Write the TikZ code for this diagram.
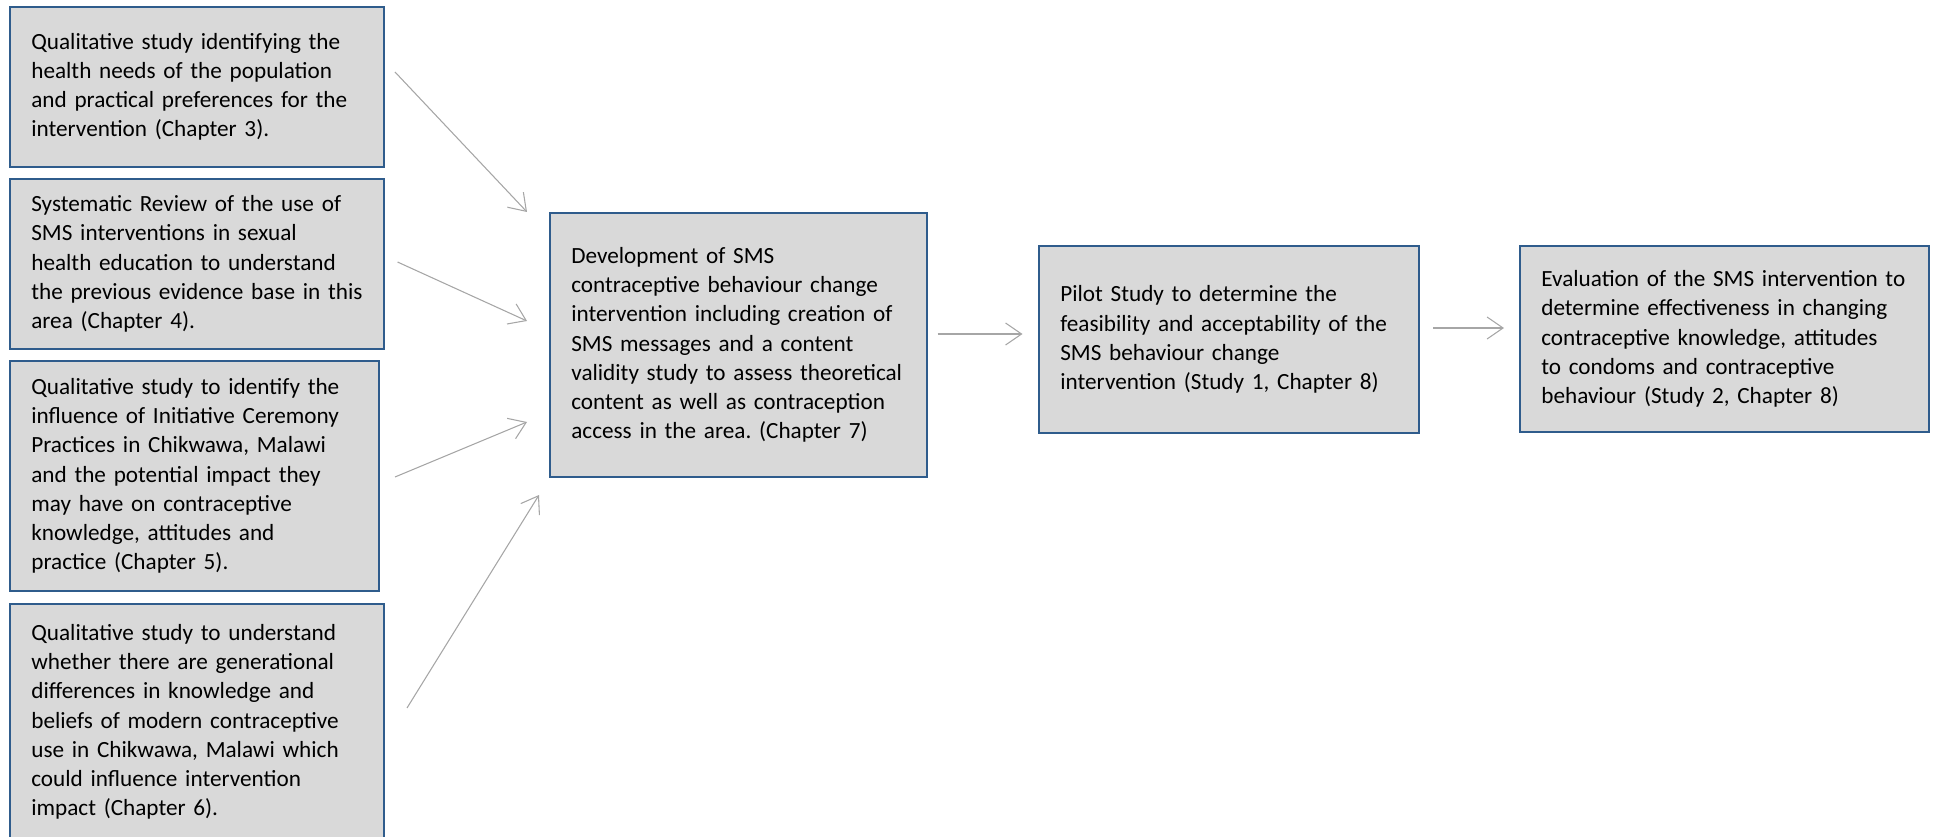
\documentclass[tikz,border=0pt]{standalone}
\usepackage{fontspec}
\setmainfont{Carlito}
\usetikzlibrary{arrows.meta}
\frenchspacing
\definecolor{stagefill}{HTML}{D9D9D9}
\definecolor{stageline}{HTML}{2F5C8C}
\definecolor{flowgray}{HTML}{A6A6A6}
\tikzset{
  stage/.style={draw=stageline, line width=1.8pt, fill=stagefill, align=left,
    inner xsep=16pt, inner ysep=0pt, font=\fontsize{17.4}{21.9}\selectfont},
  flow/.style={draw=flowgray, line width=0.8pt, -{Straight Barb[length=12pt,width=16.5pt]}}
}
\begin{document}
\begin{tikzpicture}[x=0.75pt, y=-0.75pt]
    \useasboundingbox (0,0) rectangle (1935,837);
    \begin{scope}
    \clip (0,0) rectangle (1935,837);
    % the four earlier studies
    \node (q1) [stage, text width=248.5pt, minimum height=120pt] at (197,87)
      {Qualitative study identifying the\\ health needs of the population\\ and practical preferences for the\\ intervention (Chapter 3).};
    \node (q2) [stage, text width=248.5pt, minimum height=127.5pt] at (197,264)
      {Systematic Review of the use of\\ SMS interventions in sexual\\ health education to understand\\ the previous evidence base in this\\ area (Chapter 4).};
    \node (q3) [stage, text width=244.75pt, minimum height=172.5pt] at (194.5,476)
      {Qualitative study to identify the\\ influence of Initiative Ceremony\\ Practices in Chikwawa, Malawi\\ and the potential impact they\\ may have on contraceptive\\ knowledge, attitudes and\\ practice (Chapter 5).};
    \node (q4) [stage, text width=248.5pt, minimum height=177pt] at (197,722)
      {Qualitative study to understand\\ whether there are generational\\ differences in knowledge and\\ beliefs of modern contraceptive\\ use in Chikwawa, Malawi which\\ could influence intervention\\ impact (Chapter 6).};
    \end{scope}

    % development, pilot and evaluation
    \node (dev) [stage, text width=250.75pt, minimum height=198pt] at (738.5,345)
      {Development of SMS\\ contraceptive behaviour change\\ intervention including creation of\\ SMS messages and a content\\ validity study to assess theoretical\\ content as well as contraception\\ access in the area. (Chapter 7)};
    \node (pilot) [stage, text width=253pt, minimum height=140.25pt] at (1229,339.5)
      {Pilot Study to determine the\\ feasibility and acceptability of the\\ SMS behaviour change\\ intervention (Study 1, Chapter 8)};
    \node (eval) [stage, text width=274.75pt, minimum height=139.5pt] at (1724.5,339)
      {Evaluation of the SMS intervention to\\ determine effectiveness in changing\\ contraceptive knowledge, attitudes\\ to condoms and contraceptive\\ behaviour (Study 2, Chapter 8)};

    \coordinate (q1out) at (395,72);
    \coordinate (q2out) at (397.5,262);
    \coordinate (q3out) at (395,477);
    \coordinate (q4out) at (407,708);
    \coordinate (dev1) at (527,212);
    \coordinate (dev2) at (527,321);
    \coordinate (dev3) at (527,422);
    \coordinate (dev4) at (539,495);
    \coordinate (devout) at (937.5,334);
    \coordinate (pilotin) at (1022.5,334);
    \coordinate (pilotout) at (1433,328);
    \coordinate (evalin) at (1504,328);

    \draw[flow] (q1out) -- (dev1);
    \draw[flow] (q2out) -- (dev2);
    \draw[flow] (q3out) -- (dev3);
    \draw[flow] (q4out) -- (dev4);
    \draw[flow] (devout) -- (pilotin);
    \draw[flow] (pilotout) -- (evalin);
\end{tikzpicture}
\end{document}
